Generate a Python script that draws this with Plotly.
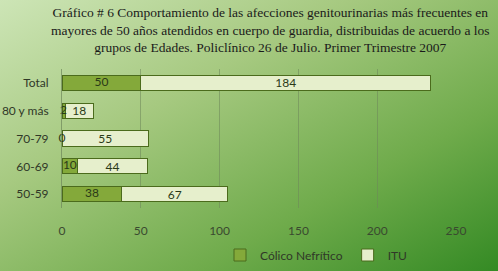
import plotly.graph_objects as go
import base64

categories = ["50-59", "60-69", "70-79", "80 y más", "Total"]
colico = [38, 10, 0, 2, 50]
itu = [67, 44, 55, 18, 184]
x_ticks = [0, 50, 100, 150, 200, 250]

W, H = 498, 271
L, R, T, B = 62, 42, 69, 63
pw, ph = W - L - R, H - T - B

svg = f'''<svg xmlns="http://www.w3.org/2000/svg" width="{W}" height="{H}" preserveAspectRatio="none">
<defs><linearGradient id="g" x1="0" y1="0" x2="1" y2="1">
<stop offset="0" stop-color="#cde5b6"/>
<stop offset="0.35" stop-color="#a6c980"/>
<stop offset="0.7" stop-color="#6fab4b"/>
<stop offset="1" stop-color="#348a24"/>
</linearGradient></defs>
<rect width="{W}" height="{H}" fill="url(#g)"/></svg>'''
bg = "data:image/svg+xml;base64," + base64.b64encode(svg.encode()).decode()

label_font = dict(family="Lato", size=12, color="#2a3a18")

fig = go.Figure()
fig.add_trace(go.Bar(
    y=categories, x=colico, orientation="h", name="Cólico Nefrítico",
    marker=dict(color="#84a93a", line=dict(color="#4b6b1c", width=1)),
))
fig.add_trace(go.Bar(
    y=categories, x=itu, orientation="h", name="ITU",
    marker=dict(color="#e6efcc", line=dict(color="#4b6b1c", width=1)),
    text=itu, textposition="inside", insidetextanchor="middle", constraintext="none",
    textangle=0, textfont=label_font,
))
# Cólico labels centred on their bar segments (small segments included)
fig.add_trace(go.Scatter(
    y=categories, x=[v / 2 for v in colico], mode="text", text=colico,
    textposition="middle center", textfont=label_font, showlegend=False,
    cliponaxis=False, hoverinfo="skip",
))

fig.update_layout(
    width=W, height=H, barmode="stack", bargap=0.46,
    margin=dict(l=L, r=R, t=T, b=B, autoexpand=False),
    paper_bgcolor="#a9cc84", plot_bgcolor="rgba(0,0,0,0)",
    images=[dict(source=bg, xref="paper", yref="paper",
                 x=-L / pw, y=1 + T / ph, sizex=W / pw, sizey=H / ph,
                 xanchor="left", yanchor="top", sizing="stretch", layer="below")],
    xaxis=dict(range=[0, 250], tickvals=x_ticks, showgrid=True,
               gridcolor="rgba(110,135,90,0.55)", gridwidth=1, zeroline=False,
               showline=False, ticks="", ticklabelstandoff=14,
               tickfont=dict(family="Lato", size=12, color="#3a4a30")),
    yaxis=dict(categoryorder="array", categoryarray=categories,
               showline=True, linecolor="rgba(110,135,90,0.7)", linewidth=1,
               ticks="", ticklabelstandoff=10, showgrid=False,
               tickfont=dict(family="Lato", size=12, color="#303828")),
    legend=dict(orientation="h", x=(316 - L) / pw, xanchor="center",
                y=-(255 - T - ph) / ph, yanchor="middle",
                font=dict(family="Lato", size=12, color="#303828"),
                bgcolor="rgba(0,0,0,0)", traceorder="normal"),
    showlegend=True,
    annotations=[dict(
        text="Gráfico # 6 Comportamiento de las afecciones genitourinarias más frecuentes en<br>"
             "mayores de 50 años atendidos en cuerpo de guardia, distribuidas de acuerdo a los<br>"
             "grupos de Edades. Policlínico 26 de Julio. Primer Trimestre 2007",
        xref="paper", yref="paper", x=(270 - L) / pw, y=1 + (T - 3) / ph,
        xanchor="center", yanchor="top", showarrow=False, align="center",
        font=dict(family="Liberation Serif", size=13.5, color="#1a1a1a"))],
)

fig.write_html("out.html")
